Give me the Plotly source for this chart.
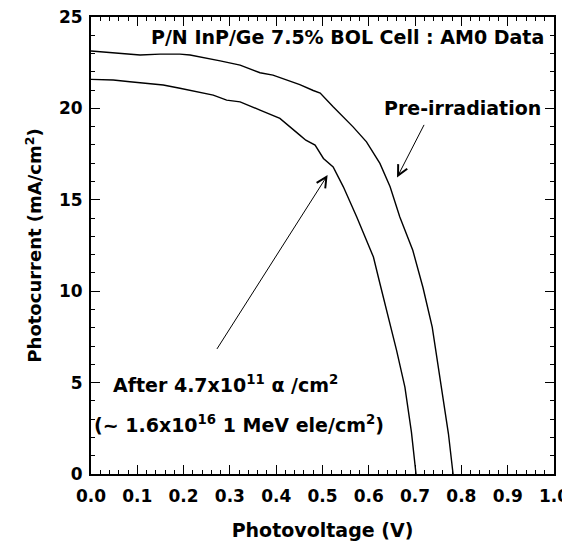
import plotly.graph_objects as go

pre_v = [0.0, 0.048, 0.084, 0.106, 0.149, 0.192, 0.214, 0.243, 0.279, 0.322, 0.365, 0.393,
         0.423, 0.451, 0.48, 0.495, 0.523, 0.566, 0.595, 0.624, 0.646, 0.667, 0.695, 0.717,
         0.737, 0.757, 0.772, 0.782]
pre_i = [23.14, 23.05, 22.97, 22.92, 22.97, 22.97, 22.92, 22.79, 22.6, 22.37, 21.95, 21.82,
         21.55, 21.3, 20.98, 20.84, 20.09, 18.99, 18.17, 16.99, 15.71, 14.06, 12.24, 10.2,
         8.04, 4.75, 2.2, 0.0]

post_v = [0.0, 0.048, 0.084, 0.12, 0.156, 0.192, 0.228, 0.264, 0.293, 0.322, 0.365, 0.408,
          0.451, 0.464, 0.484, 0.502, 0.523, 0.545, 0.574, 0.61, 0.624, 0.639, 0.66, 0.678,
          0.692, 0.702]
post_i = [21.59, 21.55, 21.46, 21.37, 21.28, 21.1, 20.91, 20.73, 20.45, 20.36, 19.91, 19.45,
          18.54, 18.26, 17.99, 17.26, 16.8, 15.71, 14.06, 11.87, 10.42, 8.95, 6.76, 4.75,
          2.3, 0.0]

x_ticks = [0.0, 0.1, 0.2, 0.3, 0.4, 0.5, 0.6, 0.7, 0.8, 0.9, 1.0]
y_ticks = [0, 5, 10, 15, 20, 25]

FONT = "DejaVu Sans, Verdana, sans-serif"
TXT = {"size": 19, "family": FONT, "color": "black"}

fig = go.Figure()
fig.add_trace(go.Scatter(x=pre_v, y=pre_i, mode="lines", name="Pre-irradiation",
                         line={"color": "black", "width": 1.4}))
fig.add_trace(go.Scatter(x=post_v, y=post_i, mode="lines", name="After",
                         line={"color": "black", "width": 1.4}))

annotations = [
    dict(x=0.983, y=23.9, xref="x", yref="y", xanchor="right", yanchor="middle",
         text="<b>P/N InP/Ge 7.5% BOL Cell : AM0 Data</b>", showarrow=False, font=TXT),
    dict(x=0.977, y=20.0, xref="x", yref="y", xanchor="right", yanchor="middle",
         text="<b>Pre-irradiation</b>", showarrow=False, font=TXT),
    dict(x=0.043, y=4.95, xref="x", yref="y", xanchor="left", yanchor="middle",
         text="<b>After 4.7x10<sup>11</sup> α /cm<sup>2</sup></b>", showarrow=False, font=TXT),
    dict(x=0.003, y=2.75, xref="x", yref="y", xanchor="left", yanchor="middle",
         text="<b>(~ 1.6x10<sup>16</sup> 1 MeV ele/cm<sup>2</sup>)</b>", showarrow=False, font=TXT),
    # y axis title, placed by hand
    dict(x=-0.125, y=0.5, xref="paper", yref="paper", xanchor="center", yanchor="middle",
         textangle=-90, text="<b>Photocurrent (mA/cm<sup>2</sup>)</b>", showarrow=False,
         font={"size": 18, "family": FONT, "color": "black"}),
    # arrows
    dict(x=0.511, y=16.35, ax=0.27, ay=6.76, xref="x", yref="y", axref="x", ayref="y",
         text="", showarrow=True, arrowhead=5, arrowsize=2.0, arrowwidth=1, arrowcolor="black"),
    dict(x=0.661, y=16.22, ax=0.721, ay=19.18, xref="x", yref="y", axref="x", ayref="y",
         text="", showarrow=True, arrowhead=5, arrowsize=2.0, arrowwidth=1, arrowcolor="black"),
]

axis_common = dict(
    showgrid=False, zeroline=False, showline=True, linecolor="black", linewidth=1.8,
    mirror="ticks", ticks="inside", ticklen=9, tickwidth=1.2, tickcolor="black",
    automargin=False, ticklabeloverflow="allow",
    tickfont={"size": 17, "family": FONT, "color": "black", "weight": "bold"},
)

# page body keeps an 8px margin, so the figure is sized to fit inside it
fig.update_layout(
    width=562, height=544,
    margin={"l": 83, "r": 16, "t": 9, "b": 78},
    plot_bgcolor="white", paper_bgcolor="white",
    showlegend=False,
    annotations=annotations,
    xaxis=dict(
        axis_common, range=[0, 1.0], tickvals=x_ticks,
        ticktext=[f"{v:.1f}" for v in x_ticks], ticklabelstandoff=6,
        minor={"dtick": 0.02, "ticks": "inside", "ticklen": 4, "tickcolor": "black", "tickwidth": 1},
        title={"text": "<b>Photovoltage (V)</b>", "standoff": 18,
               "font": {"size": 19, "family": FONT, "color": "black"}},
    ),
    yaxis=dict(
        axis_common, range=[0, 25], tickvals=y_ticks, ticklabelstandoff=3,
        minor={"dtick": 1, "ticks": "inside", "ticklen": 4, "tickcolor": "black", "tickwidth": 1},
    ),
)

fig.write_html("out.html")
